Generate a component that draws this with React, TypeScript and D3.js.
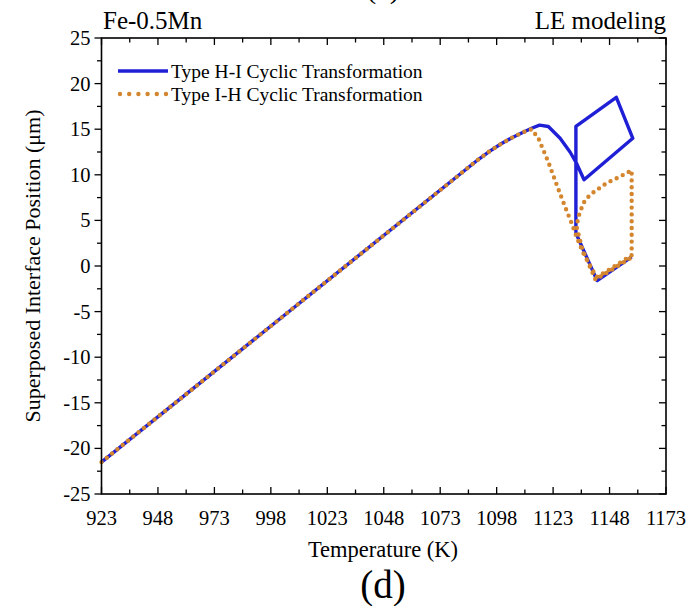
import React from "react";
import * as d3 from "d3";

const xTicks = [923, 948, 973, 998, 1023, 1048, 1073, 1098, 1123, 1148, 1173];
const yTicks = [-25, -20, -15, -10, -5, 0, 5, 10, 15, 20, 25];

// Type H-I Cyclic Transformation (blue, solid)
const hiT = [923, 1090, 1095, 1100, 1105, 1110, 1113.5, 1117, 1120.9, 1126.1, 1130.5, 1133.1, 1136.7, 1158.3, 1151, 1133.1, 1133.1, 1142.5, 1157.8];
const hiY = [-21.5, 11.7, 12.6, 13.4, 14.1, 14.7, 15.1, 15.45, 15.3, 14.0, 12.5, 11.4, 9.45, 14.0, 18.5, 15.3, 3.6, -1.6, 1.0];

// Type I-H Cyclic Transformation (orange, dotted)
const ihT = [923, 1090, 1095, 1100, 1105, 1110, 1113.5, 1116.5, 1120.9, 1124.6, 1128.3, 1131.2, 1133.4, 1136.4, 1140, 1142.3, 1146.7, 1157.8, 1157.8, 1152.6, 1146.7, 1139.3, 1136.4, 1134.2, 1133.4, 1136, 1141.8, 1157.5];
const ihY = [-21.5, 11.7, 12.6, 13.4, 14.1, 14.7, 15.0, 14.0, 11.4, 8.9, 6.5, 4.7, 3.2, 1.4, -0.25, -1.2, -0.6, 1.2, 10.5, 9.8, 9.1, 7.8, 6.9, 5.4, 4.3, 1.8, -1.5, 0.9];

const seriesNames = ["Type H-I Cyclic Transformation", "Type I-H Cyclic Transformation"];

const W = 700, H = 606;
const L = 101.5, R = 666, T = 38, B = 494;
const BLUE = "#1f1fd6";
const ORANGE = "#d4862e";
const FONT = "'Liberation Serif', 'Times New Roman', serif";

export default function App() {
  const x = d3.scaleLinear().domain([923, 1173]).range([L, R]);
  const y = d3.scaleLinear().domain([-25, 25]).range([B, T]);
  const line = d3.line<[number, number]>().x(d => x(d[0])).y(d => y(d[1]));
  const hi: [number, number][] = hiT.map((t, i) => [t, hiY[i]]);
  const ih: [number, number][] = ihT.map((t, i) => [t, ihY[i]]);

  const xMinor = xTicks.slice(0, -1).map((v, i) => (v + xTicks[i + 1]) / 2);
  const yMinor = yTicks.slice(0, -1).map((v, i) => (v + yTicks[i + 1]) / 2);
  const maj = 7, min = 4.5;

  return (
    <svg width={W} height={H} style={{ position: "absolute", left: 0, top: 0, background: "#fff" }} fontFamily={FONT}>
      <rect x={0} y={0} width={W} height={H} fill="#fff" />
      <text x={383} y={-2} fontSize={30} textAnchor="middle">(c)</text>
      <text x={103} y={29} fontSize={25}>Fe-0.5Mn</text>
      <text x={R} y={29} fontSize={25} textAnchor="end">LE modeling</text>

      {/* ticks */}
      <g stroke="#000" strokeWidth={1.3}>
        {xTicks.map(v => (
          <g key={"xt" + v}>
            <line x1={x(v)} x2={x(v)} y1={B} y2={B - maj} />
            <line x1={x(v)} x2={x(v)} y1={T} y2={T + maj} />
          </g>
        ))}
        {xMinor.map(v => (
          <g key={"xm" + v}>
            <line x1={x(v)} x2={x(v)} y1={B} y2={B - min} />
            <line x1={x(v)} x2={x(v)} y1={T} y2={T + min} />
          </g>
        ))}
        {yTicks.map(v => (
          <g key={"yt" + v}>
            <line x1={L} x2={L - maj} y1={y(v)} y2={y(v)} />
            <line x1={R} x2={R - maj} y1={y(v)} y2={y(v)} />
          </g>
        ))}
        {yMinor.map(v => (
          <g key={"ym" + v}>
            <line x1={L} x2={L - min} y1={y(v)} y2={y(v)} />
            <line x1={R} x2={R - min} y1={y(v)} y2={y(v)} />
          </g>
        ))}
      </g>

      {/* tick labels */}
      {xTicks.map(v => (
        <text key={"xl" + v} x={x(v)} y={525} fontSize={20.5} textAnchor="middle">{v}</text>
      ))}
      {yTicks.map(v => (
        <text key={"yl" + v} x={L - 11} y={y(v) + 7} fontSize={20.5} textAnchor="end">{v}</text>
      ))}

      {/* data */}
      <path d={line(hi) || ""} fill="none" stroke={BLUE} strokeWidth={3.4} strokeLinejoin="round" />
      <path d={line(ih) || ""} fill="none" stroke={ORANGE} strokeWidth={4.4} strokeLinecap="round" strokeDasharray="0 6.8" />

      {/* frame */}
      <rect x={L} y={T} width={R - L} height={B - T} fill="none" stroke="#000" strokeWidth={1.6} />

      {/* legend */}
      <line x1={118} x2={168} y1={71} y2={71} stroke={BLUE} strokeWidth={3.4} />
      <text x={171} y={77.5} fontSize={19.5}>{seriesNames[0]}</text>
      <line x1={120} x2={166} y1={94} y2={94} stroke={ORANGE} strokeWidth={4.4} strokeLinecap="round" strokeDasharray="0 9.2" />
      <text x={171} y={100.5} fontSize={19.5}>{seriesNames[1]}</text>

      {/* axis titles */}
      <text x={383} y={557} fontSize={22.5} textAnchor="middle">Temperature (K)</text>
      <text x={383} y={598} fontSize={39} textAnchor="middle">(d)</text>
      <text transform={`translate(40, ${(T + B) / 2}) rotate(-90)`} fontSize={22} textAnchor="middle">Superposed Interface Position (μm)</text>
    </svg>
  );
}
